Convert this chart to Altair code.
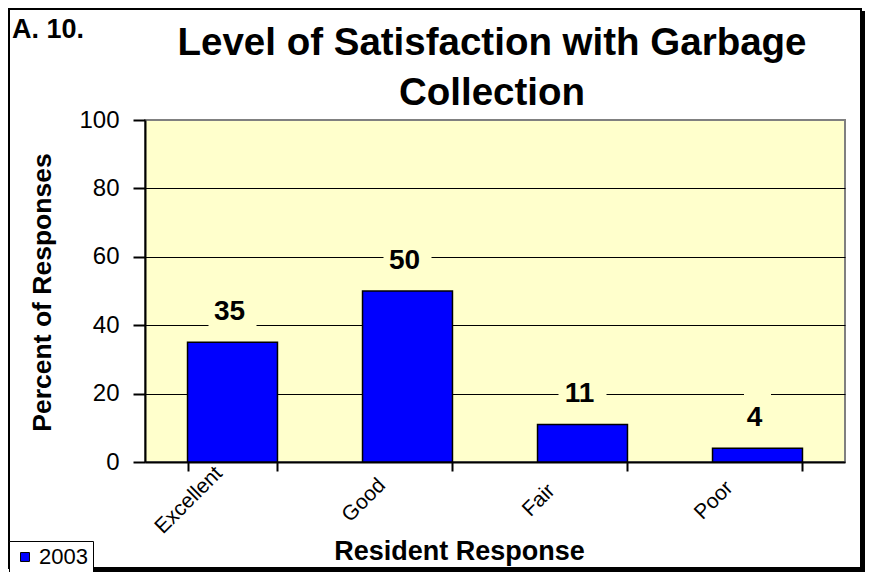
import altair as alt
import pandas as pd

categories = ["Excellent", "Good", "Fair", "Poor"]
values = [35, 50, 11, 4]
series_name = "2003"
y_tick_values = [0, 10, 20, 30, 40, 50, 60, 70, 80, 90, 100]
title_lines = ["Level of Satisfaction with Garbage", "Collection"]
corner_label = "A. 10."
x_title = "Resident Response"
y_title = "Percent of Responses"

FONT = "Liberation Sans"
BG = "#FFFFCC"

df = pd.DataFrame({"response": categories, "pct": values, "year": [series_name] * len(categories)})

x_axis = alt.Axis(
    title=x_title, labelAngle=-45, tickBand="extent", tickSize=9, tickWidth=2,
    tickColor="black", domainColor="black", domainWidth=2, labelFont=FONT,
    labelFontSize=21, labelColor="black", labelPadding=29, labelOffset=-44,
    labelAlign="center", labelBaseline="middle",
    titleFont=FONT, titleFontSize=27, titleFontWeight="bold", titleColor="black",
    titleX=314, titleY=76, titleBaseline="top", grid=False,
)
y_axis = alt.Axis(
    title=y_title, values=y_tick_values,
    labelExpr="datum.value % 20 === 0 ? datum.label : ''",
    tickSize={"condition": {"test": "datum.value % 20 === 0", "value": 12}, "value": 9},
    tickWidth=2, tickColor="black", domainColor="black", domainWidth=2,
    labelFont=FONT, labelFontSize=24, labelColor="black", labelPadding=14,
    titleFont=FONT, titleFontSize=26.5, titleFontWeight="bold", titleColor="black",
    titleX=-103, titleY=172, titleBaseline="middle", grid=True, gridColor="black",
    gridWidth=1,
    gridOpacity={"condition": {"test": "datum.value % 20 === 0 && datum.value > 0 && datum.value < 100", "value": 1}, "value": 0},
)

x_enc = alt.X("response:N", sort=categories,
              scale=alt.Scale(paddingInner=0.486, paddingOuter=0.243), axis=x_axis)

bars = alt.Chart(df).mark_bar(stroke="black", strokeWidth=1.5).encode(
    x=x_enc,
    y=alt.Y("pct:Q", scale=alt.Scale(domain=[0, 100], nice=False), axis=y_axis),
    color=alt.Color("year:N", scale=alt.Scale(range=["#0000FF"]),
                    legend=alt.Legend(orient="none", legendX=-136, legendY=421, title=None,
                                      symbolType="square", symbolSize=80,
                                      symbolStrokeColor="black", symbolStrokeWidth=1,
                                      labelFont=FONT, labelFontSize=22, labelColor="black",
                                      padding=5, strokeColor="black", fillColor="white",
                                      labelOffset=3)),
)

boxes = alt.Chart(df).transform_calculate(
    lo="datum.pct + 4", hi="datum.pct + 16.5",
    w="length(toString(datum.pct)) * 21 + 6",
).mark_bar(color=BG).encode(
    x=alt.X("response:N", sort=categories, title=x_title),
    y=alt.Y("lo:Q", title=y_title),
    y2="hi:Q",
    size=alt.Size("w:Q", scale=None),
)

labels = alt.Chart(df).mark_text(dy=-30, dx=-3, fontSize=28, fontWeight="bold", font=FONT,
                                 color="black", baseline="middle").encode(
    x=alt.X("response:N", sort=categories, title=x_title),
    y=alt.Y("pct:Q", title=y_title),
    text="pct:Q",
)

one = alt.Data(values=[{"t": corner_label, "title": "\n".join(title_lines)}])
corner = alt.Chart(one).mark_text(align="left", baseline="alphabetic", fontSize=27,
                                  fontWeight="bold", font=FONT, color="black").encode(
    x=alt.value(-133), y=alt.value(-82), text="t:N")

title_mark = alt.Chart(one).mark_text(align="center", baseline="alphabetic", fontSize=38.5,
                                      fontWeight="bold", font=FONT, color="black",
                                      lineBreak="\n", lineHeight=50).encode(
    x=alt.value(347), y=alt.value(-65), text="title:N")

frame = alt.Chart(one).mark_rect(filled=False, stroke="black", strokeWidth=2).encode(
    x=alt.value(-136), x2=alt.value(716), y=alt.value(-111), y2=alt.value(448))
shadow_r = alt.Chart(one).mark_rule(stroke="black", strokeWidth=3).encode(
    x=alt.value(718.5), y=alt.value(-109), y2=alt.value(451))
shadow_b = alt.Chart(one).mark_rule(stroke="black", strokeWidth=3).encode(
    y=alt.value(450.5), x=alt.value(-134), x2=alt.value(720))

chart = alt.layer(bars, boxes, labels, corner, title_mark, frame, shadow_r, shadow_b).properties(
    width=700, height=342,
    autosize=alt.AutoSizeParams(type="none"),
    padding={"left": 137, "top": 112, "right": 20, "bottom": 110},
    background="white",
).configure_view(fill=BG, stroke="#808080", strokeWidth=2)

chart.save("out.html", embed_options={"renderer": "svg", "actions": False})
